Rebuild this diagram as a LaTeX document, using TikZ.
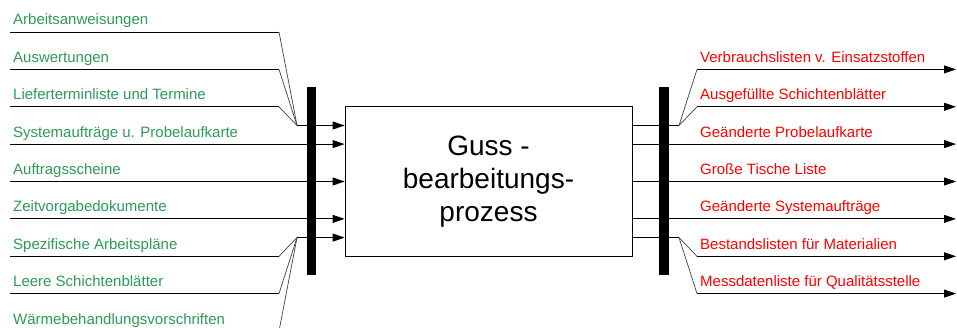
\documentclass[tikz,border=0pt]{standalone}
\usepackage{fontspec}
\setmainfont{Liberation Sans}
\usetikzlibrary{arrows.meta}
\definecolor{ingreen}{RGB}{44,154,88}
\definecolor{outred}{RGB}{255,0,0}
\begin{document}
\begin{tikzpicture}[x=1pt,y=-1pt,
  wire/.style={line width=0.9pt, black},
  slant/.style={line width=0.7pt, black!75},
  feed/.style={wire, -{Triangle[length=12pt,width=8pt]}},
  inlabel/.style={anchor=base west, inner sep=0pt, text=ingreen, font=\fontsize{15}{18}\selectfont},
  outlabel/.style={inlabel, text=outred},
  bar/.style={fill=black, draw=none, minimum width=9.5pt, minimum height=188pt, inner sep=0pt},
  process/.style={draw, line width=0.9pt, minimum width=287pt, minimum height=149.5pt,
    inner sep=0pt, align=center, font=\fontsize{28}{33}\selectfont}
]
\useasboundingbox (0,0) rectangle (957,328);
\clip (0,0) rectangle (957,328);

% process box
\node[process] (box) at (488.5,181.5) {Guss -\\bearbeitungs-\\prozess};

% inputs (left) and their labels
\foreach \i/\y/\t in {0/32/{Arbeitsanweisungen},
                      1/69.4/{Auswertungen},
                      2/106.8/{Lieferterminliste und Termine},
                      3/144.1/{Systemaufträge u. Probelaufkarte},
                      4/181.5/{Auftragsscheine},
                      5/218.9/{Zeitvorgabedokumente},
                      6/256.3/{Spezifische Arbeitspläne},
                      7/293.6/{Leere Schichtenblätter},
                      8/331/{Wärmebehandlungsvorschriften}}{
  \coordinate (in\i) at (10,\y);
  \coordinate (ib\i) at (279,\y);
  \node[inlabel] (inl\i) at (13,\y-7) {\t};
}

% outputs (right) and their labels
\foreach \i/\y/\t in {1/69.4/{Verbrauchslisten v. Einsatzstoffen},
                      2/106.8/{Ausgefüllte Schichtenblätter},
                      3/144.1/{Geänderte Probelaufkarte},
                      4/181.5/{Große Tische Liste},
                      5/218.9/{Geänderte Systemaufträge},
                      6/256.3/{Bestandslisten für Materialien},
                      7/293.6/{Messdatenliste für Qualitätsstelle}}{
  \coordinate (out\i) at (956,\y);
  \coordinate (ob\i) at (697,\y);
  \node[outlabel] (outl\i) at (700,\y-7) {\t};
}

% junction points
\coordinate (jL1) at (297,125.5);
\coordinate (jL2) at (297,237.6);
\coordinate (jR1) at (679,125.5);
\coordinate (jR2) at (679,237.6);

% merged inputs
\foreach \i in {0,1,2} {
  \draw[wire] (in\i) -- (ib\i);
  \draw[slant] (ib\i) -- (jL1);
}
\foreach \i in {6,7,8} {
  \draw[wire] (in\i) -- (ib\i);
  \draw[slant] (ib\i) -- (jL2);
}
\draw[feed] (jL1) -- (box.west |- jL1);
\draw[feed] (jL2) -- (box.west |- jL2);

% direct inputs
\foreach \i in {3,4,5}
  \draw[feed] (in\i) -- (box.west |- in\i);

% split outputs
\draw[wire] (box.east |- jR1) -- (jR1);
\draw[wire] (box.east |- jR2) -- (jR2);
\foreach \i in {1,2} {
  \draw[slant] (jR1) -- (ob\i);
  \draw[feed] (ob\i) -- (out\i);
}
\foreach \i in {6,7} {
  \draw[slant] (jR2) -- (ob\i);
  \draw[feed] (ob\i) -- (out\i);
}

% direct outputs
\foreach \i in {3,4,5}
  \draw[feed] (box.east |- out\i) -- (out\i);

% bars
\node[bar] (barL) at (311.5,181) {};
\node[bar] (barR) at (664,181) {};
\end{tikzpicture}
\end{document}
